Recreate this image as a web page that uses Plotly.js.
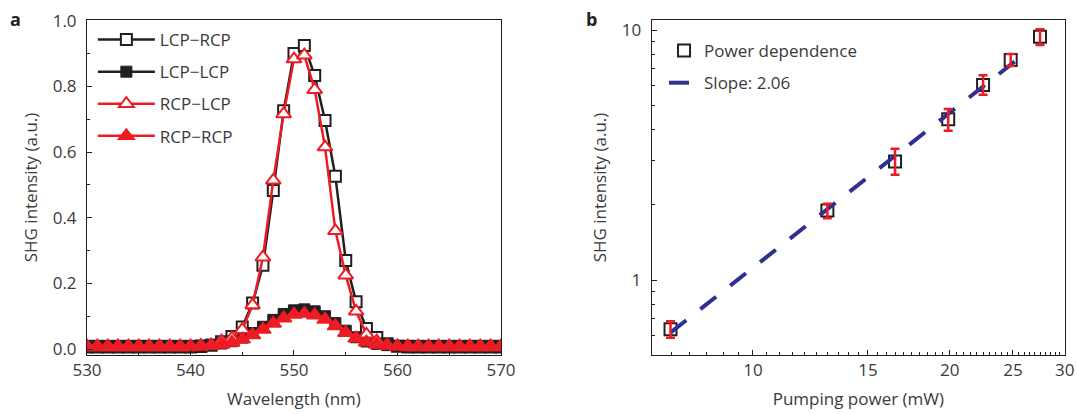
<!DOCTYPE html>
<html><head><meta charset="utf-8">
<script src="https://cdn.plot.ly/plotly-3.0.1.min.js"></script>
<style>html,body{margin:0;padding:0;background:#fff}#chart{width:1077px;height:414px}</style>
</head><body><div id="chart"></div>
<script>
// ---- Panel a: SHG spectra ----
const wavelength = [530,531,532,533,534,535,536,537,538,539,540,541,542,543,544,545,546,547,548,549,550,551,552,553,554,555,556,557,558,559,560,561,562,563,564,565,566,567,568,569,570];
const lcpRcp = [0.006,0.006,0.006,0.006,0.006,0.006,0.006,0.006,0.006,0.006,0.006,0.008,0.012,0.022,0.038,0.067,0.140,0.255,0.483,0.726,0.900,0.924,0.833,0.696,0.526,0.270,0.144,0.063,0.035,0.016,0.009,0.006,0.006,0.006,0.006,0.006,0.006,0.006,0.006,0.006,0.006];
const lcpLcp = [0.010,0.010,0.010,0.010,0.010,0.010,0.010,0.010,0.010,0.010,0.010,0.011,0.013,0.017,0.024,0.035,0.049,0.068,0.089,0.107,0.118,0.121,0.115,0.100,0.079,0.056,0.036,0.023,0.016,0.012,0.010,0.010,0.010,0.010,0.010,0.010,0.010,0.010,0.010,0.010,0.010];
const rcpLcp = [0.006,0.006,0.006,0.006,0.006,0.006,0.006,0.006,0.006,0.006,0.006,0.008,0.012,0.024,0.033,0.059,0.134,0.280,0.514,0.716,0.883,0.895,0.790,0.615,0.360,0.225,0.115,0.045,0.024,0.012,0.008,0.006,0.006,0.006,0.006,0.006,0.006,0.006,0.006,0.006,0.006];
const rcpRcp = [0.009,0.009,0.009,0.009,0.009,0.009,0.009,0.009,0.009,0.009,0.009,0.010,0.011,0.014,0.020,0.030,0.043,0.060,0.078,0.094,0.105,0.108,0.103,0.090,0.070,0.050,0.033,0.021,0.014,0.011,0.009,0.009,0.009,0.009,0.009,0.009,0.009,0.009,0.009,0.009,0.009];
const seriesNames = ['LCP\u2212RCP','LCP\u2212LCP','RCP\u2212LCP','RCP\u2212RCP'];

// ---- Panel b: power dependence ----
const pumpPower = [7.48, 13.0, 16.5, 19.9, 22.5, 24.8, 27.5];
const shgIntensity = [0.636, 1.90, 2.98, 4.40, 6.03, 7.59, 9.40];
const errPlus = [0.05, 0.12, 0.37, 0.43, 0.56, 0.43, 0.66];
const errMinus = [0.047, 0.13, 0.34, 0.44, 0.52, 0.41, 0.69];
const fitPower = [7.48, 26.4];
const fitIntensity = [0.617, 8.26];
const fitLabel = 'Slope: 2.06';
const pointLabel = 'Power dependence';

const BLACK = '#231f20', RED = '#ed1c24', NAVY = '#2e3192', TXT = '#3a3a3a';

const traces = [
  {x: wavelength, y: lcpRcp, name: seriesNames[0], mode: 'lines+markers', legend: 'legend', legendgroup: 'a1',
   line: {color: BLACK, width: 2.5}, marker: {symbol: 'square', size: 11, color: '#fff', line: {color: BLACK, width: 2}}},
  {x: wavelength, y: lcpLcp, name: seriesNames[1], mode: 'lines+markers', legend: 'legend', legendgroup: 'a2',
   line: {color: BLACK, width: 2.5}, marker: {symbol: 'square', size: 11, color: BLACK, line: {color: BLACK, width: 1}}},
  {x: wavelength, y: rcpLcp, name: seriesNames[2], mode: 'lines+markers', legend: 'legend', legendgroup: 'a3',
   line: {color: RED, width: 2.5}, marker: {symbol: 'triangle-up', size: 13, color: '#fff', line: {color: RED, width: 2}}},
  {x: wavelength, y: rcpRcp, name: seriesNames[3], mode: 'lines+markers', legend: 'legend', legendgroup: 'a4',
   line: {color: RED, width: 2.5}, marker: {symbol: 'triangle-up', size: 14, color: RED, line: {color: RED, width: 1.5}}},
  {x: pumpPower, y: shgIntensity, name: pointLabel, mode: 'markers', xaxis: 'x2', yaxis: 'y2', legend: 'legend2', legendgroup: 'b1',
   marker: {symbol: 'square-open', size: 12, color: BLACK, line: {color: BLACK, width: 2}}},
  {x: fitPower, y: fitIntensity, name: fitLabel, mode: 'lines', xaxis: 'x2', yaxis: 'y2', legend: 'legend2', legendgroup: 'b2',
   line: {color: NAVY, width: 4, dash: '20px,18px'}},
  {x: pumpPower, y: shgIntensity, mode: 'markers', xaxis: 'x2', yaxis: 'y2', showlegend: false,
   marker: {size: 2, opacity: 0},
   error_y: {type: 'data', symmetric: false, array: errPlus, arrayminus: errMinus, color: RED, thickness: 2.5, width: 4.5}}
];

const axisCommon = {showline: true, linecolor: BLACK, linewidth: 1, mirror: true, showgrid: false, zeroline: false,
  ticks: 'inside', ticklen: 5, tickwidth: 1, tickcolor: BLACK, tickfont: {size: 17, color: TXT}};

const minor1 = [];
for (let v = 7.5; v < 30; v += 0.5) { if (v % 5 !== 0) minor1.push(v); }
const minorY2 = [0.6,0.7,0.8,0.9,2,3,4,5,6,7,8,9];

const layout = {
  width: 1077, height: 414,
  margin: {l: 87, r: 12, t: 20, b: 59, autoexpand: false},
  paper_bgcolor: '#fff', plot_bgcolor: '#fff',
  font: {family: '"Open Sans", sans-serif', size: 17, color: TXT},
  hovermode: false,
  xaxis: Object.assign({}, axisCommon, {domain: [0, 0.4233], range: [530, 570], tick0: 530, dtick: 10,
    minor: {dtick: 5, ticks: 'inside', ticklen: 3, tickcolor: BLACK, showgrid: false},
    title: {text: 'Wavelength (nm)', font: {size: 17, color: TXT}, standoff: 12}}),
  yaxis: Object.assign({}, axisCommon, {range: [-0.018, 1.002], tick0: 0, dtick: 0.2, tickformat: '.1f',
    minor: {dtick: 0.1, ticks: 'inside', ticklen: 3, tickcolor: BLACK, showgrid: false},
    ticklabelstandoff: 6,
    title: {text: 'SHG intensity (a.u.)', font: {size: 17, color: TXT}, standoff: 10}}),
  xaxis2: Object.assign({}, axisCommon, {domain: [0.5774, 1], type: 'log', range: [Math.log10(7), Math.log10(30.03)],
    tickmode: 'array', tickvals: [10, 15, 20, 25, 30], ticktext: ['10', '15', '20', '25', '30'], anchor: 'y2',
    minor: {tickmode: 'array', tickvals: minor1, ticks: 'inside', ticklen: 3, tickcolor: BLACK, showgrid: false},
    title: {text: 'Pumping power (mW)', font: {size: 17, color: TXT}, standoff: 12}}),
  yaxis2: Object.assign({}, axisCommon, {type: 'log', range: [-0.299, 1.04], anchor: 'x2',
    tickmode: 'array', tickvals: [1, 10], ticktext: ['1', '10'], ticklabelstandoff: 6,
    minor: {tickmode: 'array', tickvals: minorY2, ticks: 'inside', ticklen: 3, tickcolor: BLACK, showgrid: false},
    title: {text: 'SHG intensity (a.u.)', font: {size: 17, color: TXT}, standoff: 10}}),
  legend: {x: 0.006, y: 0.994, xanchor: 'left', yanchor: 'top', bgcolor: 'rgba(0,0,0,0)',
    font: {size: 17, color: TXT}, itemwidth: 57, tracegroupgap: 7},
  legend2: {x: 0.590, y: 0.961, xanchor: 'left', yanchor: 'top', bgcolor: 'rgba(0,0,0,0)',
    font: {size: 17, color: TXT}, tracegroupgap: 7},
  annotations: [
    {text: '<b>a</b>', xref: 'paper', yref: 'paper', x: -0.0808, y: 1.045, showarrow: false, font: {size: 18, color: '#222'}},
    {text: '<b>b</b>', xref: 'paper', yref: 'paper', x: 0.5154, y: 1.045, showarrow: false, font: {size: 18, color: '#222'}}
  ]
};

Plotly.newPlot('chart', traces, layout, {displayModeBar: false, staticPlot: true});
</script>
</body></html>
